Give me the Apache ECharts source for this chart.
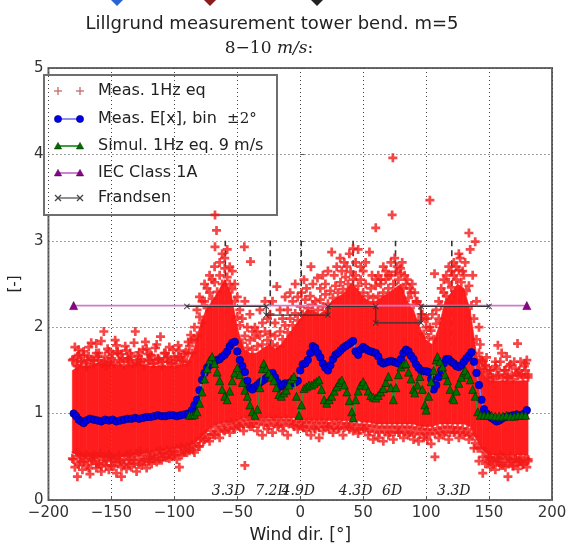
<!DOCTYPE html>
<html><head><meta charset="utf-8">
<script src="https://cdn.jsdelivr.net/npm/echarts@6/dist/echarts.min.js"></script>
<style>html,body{margin:0;padding:0;background:#fff}#c{width:577px;height:549px}</style>
</head><body><div id="c"></div>
<script>
// ---------- data ----------
const titleText = 'Lillgrund measurement tower bend. m=5';
const xName = 'Wind dir. [°]';
const yName = '[-]';
const legendNames = ['Meas. 1Hz eq', 'Meas. E[x], bin  ±2°', 'Simul. 1Hz eq. 9 m/s', 'IEC Class 1A', 'Frandsen'];

// dense core of the 1Hz measurement cloud: [dir, low, high]
const measCore = [
  [-181,0.55,1.5],[-175,0.5,1.55],[-170,0.5,1.55],[-160,0.5,1.58],[-150,0.48,1.58],[-140,0.5,1.55],
  [-130,0.52,1.58],[-120,0.55,1.55],[-110,0.58,1.55],[-100,0.6,1.55],[-90,0.62,1.58],[-85,0.65,1.72],
  [-80,0.7,2.0],[-75,0.78,2.2],[-70,0.85,2.3],[-65,0.88,2.42],[-60,0.9,2.55],[-55,0.9,2.4],[-50,0.92,2.0],
  [-45,0.95,1.75],[-40,0.95,1.7],[-35,0.95,1.7],[-30,0.95,1.75],[-25,0.95,1.8],[-20,0.95,1.75],[-15,0.95,1.8],
  [-10,0.95,1.9],[-5,0.95,2.0],[0,0.92,2.1],[5,0.92,2.2],[10,0.92,2.2],[15,0.92,2.15],[20,0.92,2.2],
  [25,0.92,2.3],[30,0.92,2.35],[35,0.92,2.4],[40,0.92,2.5],[45,0.92,2.45],[50,0.9,2.35],[55,0.9,2.3],
  [60,0.88,2.3],[65,0.88,2.35],[70,0.88,2.4],[75,0.88,2.45],[80,0.88,2.5],[85,0.88,2.3],[90,0.88,2.2],
  [95,0.85,2.0],[100,0.85,1.85],[105,0.85,1.8],[110,0.88,2.0],[115,0.88,2.3],[120,0.88,2.4],[125,0.88,2.5],
  [130,0.88,2.45],[135,0.85,2.2],[140,0.7,1.7],[145,0.58,1.45],[150,0.52,1.38],[160,0.52,1.38],
  [170,0.52,1.38],[181,0.52,1.38]
];

// scattered 1Hz measurement points outside the dense core
const measPoints = [
  [-181,1.62],[-179,1.77],[-177,1.55],[-176,1.68],[-174,1.6],[-172,1.72],[-170,1.58],[-168,1.66],[-166,1.82],[-164,1.61],
  [-162,1.81],[-160,1.7],[-158,1.58],[-156,1.95],[-155,1.66],[-153,1.75],[-151,1.6],[-149,1.69],[-147,1.85],[-145,1.72],
  [-143,1.6],[-141,1.64],[-139,1.78],[-137,1.62],[-135,1.7],[-133,1.58],[-131,1.95],[-129,1.67],[-127,1.6],[-125,1.74],
  [-123,1.83],[-121,1.62],[-119,1.68],[-117,1.58],[-115,1.76],[-113,1.63],[-111,1.89],[-109,1.6],[-107,1.7],[-105,1.66],
  [-103,1.58],[-101,1.74],[-99,1.62],[-97,1.79],[-95,1.65],[-93,1.6],[-91,1.71],[-89,1.83],[-87,1.91],[-86,1.7],
  [-181,0.48],[-179,0.38],[-177,0.27],[-175,0.44],[-173,0.35],[-171,0.47],[-169,0.4],[-167,0.3],[-165,0.45],[-164,0.49],
  [-162,0.37],[-160,0.42],[-158,0.33],[-156,0.46],[-154,0.4],[-152,0.35],[-150,0.47],[-148,0.39],[-146,0.31],[-144,0.44],
  [-142,0.27],[-140,0.41],[-138,0.36],[-136,0.46],[-134,0.38],[-132,0.43],[-130,0.33],[-128,0.47],[-126,0.4],[-124,0.45],
  [-122,0.37],[-120,0.48],[-118,0.42],[-116,0.5],[-114,0.44],[-112,0.52],[-110,0.46],[-108,0.54],[-106,0.49],[-104,0.55],
  [-102,0.5],[-100,0.56],[-98,0.47],[-96,0.38],[-94,0.52],[-92,0.58],[-90,0.55],[-88,0.6],
  [-84,2.0],[-82,2.2],[-80,2.35],[-78,2.3],[-76,2.5],[-74,2.45],[-72,2.6],[-70,2.55],[-68,2.7],[-67.7,2.93],
  [-66.5,3.12],[-67.7,3.3],[-64,2.75],[-62,2.85],[-60,2.8],[-58,2.9],[-56,2.7],[-54,2.65],[-52,2.5],[-50,2.35],
  [-48,2.2],[-46,2.1],[-44.4,2.93],[-39.5,2.76],[-44,2.3],[-42,2.0],[-40,2.15],[-38,1.95],
  [-84,0.55],[-80,0.62],[-76,0.7],[-72,0.68],[-68,0.75],[-64,0.72],[-60,0.8],[-56,0.78],[-52,0.82],[-48,0.85],
  [-44,0.4],[-45,0.8],[-40,0.85],
  [-36,2.0],[-34,1.95],[-32,2.2],[-30,2.05],[-28,2.3],[-26,2.1],[-24,2.15],[-22,2.3],[-20,2.05],[-18.6,2.47],
  [-16,2.2],[-14,2.1],[-12,2.35],[-10,2.2],[-8,2.4],[-6,2.3],[-4,2.5],[-2,2.35],
  [-38,0.85],[-34,0.8],[-30,0.75],[-26,0.82],[-22,0.78],[-18,0.85],[-14,0.8],[-10,0.75],[-5.7,0.87],[-2,0.82],
  [1,2.4],[3,2.55],[5,2.45],[8.5,2.7],[10,2.5],[13.7,2.57],[16,2.45],[18,2.6],[20,2.5],[22,2.65],
  [25,2.87],[27,2.6],[29,2.7],[31.7,2.8],[33,2.65],[35,2.75],[37,2.7],[39,2.85],[42,2.91],[44,2.75],
  [46,2.9],[48,2.7],[50,2.65],[52,2.75],[55,2.87],[57,2.6],[60,3.15],[60,2.55],[62,2.6],[64,2.55],
  [66,2.7],[68,2.65],[70,2.6],[72,2.75],[73,3.3],[73.6,3.96],[75,2.8],[77,2.7],[79.6,2.68],[81,2.75],
  [83,2.6],[85,2.55],[87,2.45],[89,2.5],[91,2.4],[93,2.3],[95,2.25],[97,2.15],[99,2.1],
  [2,0.85],[5,0.8],[8.5,0.75],[12,0.82],[15,0.72],[18,0.8],[22,0.85],[26,0.78],[30,0.82],[34,0.75],
  [38,0.85],[42,0.8],[46,0.77],[50,0.83],[54,0.75],[58,0.7],[62,0.72],[66,0.68],[70,0.75],[74,0.7],
  [78,0.78],[82,0.72],[86,0.75],[90,0.7],[94,0.68],[98,0.72],
  [101,2.1],[103,3.47],[103,2.0],[105,2.15],[106.7,2.62],[108,2.2],[110,2.3],[112,2.45],[114,2.55],[116,2.6],
  [118,2.7],[120,2.65],[122,2.75],[124,2.7],[126,2.85],[127,2.8],[129,2.65],[131,2.75],[134,3.09],[135,2.9],
  [137,2.6],[139,2.99],[140,2.3],[142,2.0],
  [101,0.7],[104,0.65],[107,0.5],[110,0.72],[114,0.75],[118,0.7],[122,0.78],[126,0.72],[130,0.75],[134,0.7],[138,0.6],
  [143,1.8],[145,1.6],[147,1.55],[149,1.45],[151,1.5],[153,1.42],[155,1.6],[157,1.79],[158,1.45],[160,1.7],
  [162,1.5],[164,1.42],[166,1.55],[168,1.45],[170,1.6],[172.6,1.81],[174,1.5],[176,1.45],[178,1.55],[179,1.58],[181,1.42],
  [142,0.45],[145,0.31],[147,0.42],[149,0.5],[151,0.38],[153,0.45],[155,0.35],[157,0.48],[159,0.4],[161,0.5],
  [163,0.38],[165,0.27],[167,0.45],[169,0.4],[171,0.48],[173,0.36],[175,0.44],[177,0.42],[180,0.38],[181,0.47]
];

// 1Hz measurement points along the edges of the dense core
const measEdgePoints = [
  [-180,1.63],[-178,1.56],[-176,1.74],[-174,1.61],[-172,1.68],[-170,1.54],[-168,1.77],[-166,1.63],[-164,1.57],[-162,1.7],
  [-160,1.62],[-158,1.84],[-156,1.6],[-154,1.55],[-152,1.72],[-150,1.64],[-148,1.58],[-146,1.79],[-144,1.62],[-142,1.69],
  [-140,1.56],[-138,1.73],[-136,1.6],[-134,1.66],[-132,1.82],[-130,1.59],[-128,1.71],[-126,1.63],[-124,1.56],[-122,1.75],
  [-120,1.61],[-118,1.67],[-116,1.58],[-114,1.8],[-112,1.62],[-110,1.55],[-108,1.7],[-106,1.64],[-104,1.77],[-102,1.59],
  [-100,1.66],[-98,1.57],[-96,1.73],[-94,1.62],[-92,1.69],[-90,1.6],[-88,1.78],[-86,1.85],
  [-177,1.66],[-169,1.62],[-161,1.66],[-153,1.6],[-145,1.7],[-137,1.64],[-129,1.62],[-121,1.69],[-113,1.64],[-105,1.6],[-97,1.66],[-89,1.7],
  [-180,0.47],[-178,0.55],[-176,0.41],[-174,0.5],[-172,0.44],[-170,0.53],[-168,0.37],[-166,0.47],[-164,0.52],[-162,0.42],
  [-160,0.49],[-158,0.39],[-156,0.51],[-154,0.45],[-152,0.53],[-150,0.4],[-148,0.48],[-146,0.44],[-144,0.52],[-142,0.38],
  [-140,0.47],[-138,0.53],[-136,0.42],[-134,0.5],[-132,0.46],[-130,0.54],[-128,0.41],[-126,0.52],[-124,0.47],[-122,0.55],
  [-120,0.44],[-118,0.53],[-116,0.48],[-114,0.56],[-112,0.46],[-110,0.54],[-108,0.5],[-106,0.58],[-104,0.48],[-102,0.57],
  [-100,0.52],[-98,0.6],[-96,0.53],[-94,0.61],[-92,0.55],[-90,0.62],[-88,0.57],[-86,0.64],
  [-175,0.52],[-167,0.5],[-159,0.54],[-151,0.5],[-143,0.46],[-135,0.53],[-127,0.56],[-119,0.5],[-111,0.58],[-103,0.56],[-95,0.62],
  [-84,1.86],[-82,1.9],[-80,2.12],[-78,2.05],[-76,2.3],[-74,2.22],[-72,2.4],[-70,2.33],[-68,2.52],[-66,2.41],
  [-64,2.6],[-62,2.5],[-60,2.68],[-58,2.58],[-56,2.5],[-54,2.44],[-52,2.3],[-50,2.12],[-48,2.02],[-46,1.82],
  [-44,1.9],[-42,1.76],[-40,1.85],[-38,1.74],[-36,1.88],[-34,1.78],[-32,1.9],[-30,1.8],[-28,1.95],[-26,1.85],
  [-24,1.92],[-22,1.8],[-20,1.9],[-18,1.78],[-16,1.95],[-14,1.86],[-12,2.02],[-10,1.94],[-8,2.1],[-6,2.02],
  [-4,2.16],[-2,2.08],[0,2.24],[2,2.15],[4,2.32],[6,2.22],[8,2.36],[10,2.26],[12,2.3],[14,2.2],
  [16,2.32],[18,2.24],[20,2.38],[22,2.27],[24,2.42],[26,2.34],[28,2.48],[30,2.4],[32,2.52],[34,2.44],
  [36,2.58],[38,2.5],[40,2.64],[42,2.55],[44,2.6],[46,2.48],[48,2.55],[50,2.4],[52,2.5],[54,2.36],
  [56,2.45],[58,2.34],[60,2.48],[62,2.36],[64,2.5],[66,2.4],[68,2.55],[70,2.45],[72,2.6],[74,2.5],
  [76,2.64],[78,2.55],[80,2.62],[82,2.45],[84,2.5],[86,2.34],[88,2.4],[90,2.26],[92,2.3],[94,2.08],
  [96,2.15],[98,1.92],[100,2.0],[102,1.88],[104,1.96],[106,1.86],[108,2.04],[110,2.1],[112,2.25],[114,2.4],
  [116,2.36],[118,2.52],[120,2.46],[122,2.6],[124,2.55],[126,2.66],[128,2.52],[130,2.6],[132,2.42],[134,2.48],
  [136,2.25],[138,2.1],[140,1.86],[142,1.7],[144,1.62],[146,1.52],
  [-85,0.58],[-83,0.66],[-81,0.62],[-79,0.72],[-77,0.68],[-75,0.76],[-73,0.72],[-71,0.8],[-69,0.76],[-67,0.84],
  [-65,0.79],[-63,0.86],[-61,0.81],[-59,0.88],[-57,0.83],[-55,0.9],[-53,0.84],[-51,0.89],[-49,0.86],[-47,0.92],
  [-45,0.87],[-43,0.93],[-41,0.88],[-39,0.94],[-37,0.89],[-35,0.93],[-33,0.88],[-31,0.94],[-29,0.87],[-27,0.92],
  [-25,0.86],[-23,0.93],[-21,0.88],[-19,0.94],[-17,0.87],[-15,0.92],[-13,0.86],[-11,0.93],[-9,0.88],[-7,0.92],
  [-5,0.85],[-3,0.91],[-1,0.86],[1,0.9],[3,0.84],[5,0.9],[7,0.85],[9,0.9],[11,0.83],[13,0.89],
  [15,0.84],[17,0.9],[19,0.85],[21,0.89],[23,0.82],[25,0.88],[27,0.84],[29,0.9],[31,0.83],[33,0.89],
  [35,0.84],[37,0.88],[39,0.82],[41,0.88],[43,0.83],[45,0.87],[47,0.81],[49,0.87],[51,0.82],[53,0.86],
  [55,0.8],[57,0.86],[59,0.79],[61,0.85],[63,0.78],[65,0.84],[67,0.79],[69,0.85],[71,0.78],[73,0.84],
  [75,0.79],[77,0.85],[79,0.78],[81,0.84],[83,0.79],[85,0.85],[87,0.78],[89,0.84],[91,0.77],[93,0.83],
  [95,0.76],[97,0.82],[99,0.77],[101,0.82],[103,0.76],[105,0.81],[107,0.77],[109,0.83],[111,0.78],[113,0.84],
  [115,0.79],[117,0.85],[119,0.78],[121,0.84],[123,0.79],[125,0.84],[127,0.78],[129,0.83],[131,0.78],[133,0.82],
  [135,0.76],[137,0.74],[139,0.66],[141,0.6],
  [143,1.62],[145,1.48],[147,1.56],[149,1.42],[151,1.5],[153,1.4],[155,1.55],[157,1.44],[159,1.6],[161,1.41],
  [163,1.5],[165,1.43],[167,1.57],[169,1.4],[171,1.52],[173,1.44],[175,1.6],[177,1.42],[179,1.5],[181,1.45],
  [148,1.65],[156,1.52],[164,1.66],[172,1.47],[180,1.62],
  [143,0.6],[145,0.5],[147,0.56],[149,0.44],[151,0.5],[153,0.41],[155,0.49],[157,0.45],[159,0.52],[161,0.4],
  [163,0.48],[165,0.43],[167,0.51],[169,0.39],[171,0.47],[173,0.44],[175,0.5],[177,0.41],[179,0.48],[181,0.45],
  [150,0.48],[158,0.43],[166,0.48],[174,0.46]
];

// bin-averaged measurement E[x]
const measMean = [
  [-180,1.00],[-178,0.97],[-176,0.93],[-174,0.91],[-172,0.89],[-170,0.92],[-167,0.94],[-164,0.93],[-161,0.92],[-158,0.91],
  [-155,0.93],[-152,0.92],[-149,0.93],[-146,0.91],[-143,0.92],[-140,0.93],[-137,0.94],[-134,0.94],[-131,0.95],[-128,0.94],
  [-125,0.95],[-122,0.96],[-119,0.96],[-116,0.97],[-113,0.98],[-110,0.97],[-107,0.97],[-104,0.98],[-101,0.98],[-98,0.97],
  [-95,0.98],[-92,0.99],[-89,1.00],[-86,1.04],[-84,1.10],[-82,1.16],[-80,1.27],[-78,1.39],[-76,1.47],[-74,1.53],
  [-72,1.56],[-70,1.58],[-68,1.60],[-66,1.62],[-64,1.63],[-62,1.66],[-60,1.68],[-58,1.72],[-56,1.78],[-54,1.82],
  [-52,1.83],[-50,1.72],[-48,1.62],[-46,1.55],[-44,1.48],[-42,1.38],[-40,1.30],[-38,1.28],[-36,1.31],[-34,1.33],
  [-32,1.36],[-30,1.38],[-28,1.40],[-26,1.42],[-24,1.45],[-22,1.47],[-20,1.42],[-18,1.36],[-16,1.31],[-14,1.33],
  [-12,1.35],[-10,1.34],[-8,1.36],[-6,1.35],[-4,1.36],[-2,1.38],[0,1.50],[2,1.57],[4,1.58],[6,1.62],
  [8,1.70],[10,1.78],[12,1.76],[14,1.70],[16,1.65],[18,1.58],[20,1.53],[22,1.50],[24,1.56],[26,1.63],
  [28,1.68],[30,1.70],[32,1.73],[34,1.76],[36,1.78],[38,1.80],[40,1.82],[42,1.84],[44,1.72],[46,1.68],
  [48,1.74],[50,1.77],[52,1.75],[54,1.73],[56,1.72],[58,1.71],[60,1.70],[62,1.66],[64,1.60],[66,1.58],
  [68,1.59],[70,1.60],[72,1.61],[74,1.60],[76,1.59],[78,1.58],[80,1.63],[82,1.70],[84,1.74],[86,1.72],
  [88,1.67],[90,1.63],[92,1.57],[94,1.53],[96,1.50],[98,1.49],[100,1.49],[102,1.48],[104,1.40],[106,1.28],
  [108,1.33],[110,1.42],[112,1.50],[114,1.58],[116,1.63],[118,1.63],[120,1.60],[122,1.58],[124,1.55],[126,1.54],
  [128,1.56],[130,1.60],[132,1.64],[134,1.67],[136,1.71],[138,1.60],[140,1.47],[142,1.33],[144,1.16],[146,1.05],
  [148,1.00],[150,0.97],[152,0.95],[154,0.93],[156,0.91],[158,0.92],[160,0.94],[163,0.96],[166,0.97],[169,0.98],
  [172,0.99],[175,0.98],[178,1.00],[180,1.04]
];

// simulated 1Hz equivalent load, 9 m/s
const simul = [
  [-88,0.98],[-86,0.98],[-84,0.99],[-82,1.02],[-80,1.12],[-78,1.25],[-76,1.40],[-74,1.52],[-72,1.62],[-70,1.66],
  [-68,1.58],[-66,1.48],[-64,1.38],[-62,1.28],[-60,1.20],[-58,1.16],[-56,1.26],[-54,1.38],[-52,1.47],[-50,1.53],
  [-48,1.45],[-46,1.36],[-44,1.27],[-42,1.20],[-40,1.10],[-38,1.02],[-36,0.98],[-34,1.05],[-32,1.30],[-30,1.52],
  [-29,1.58],[-27,1.52],[-25,1.47],[-23,1.42],[-21,1.38],[-19,1.30],[-17,1.22],[-15,1.20],[-13,1.24],[-11,1.27],
  [-9,1.33],[-7,1.40],[-5,1.43],[-3,1.20],[-1,0.98],[1,1.10],[3,1.29],[5,1.31],[7,1.33],[9,1.33],
  [11,1.35],[13,1.37],[15,1.39],[17,1.28],[19,1.16],[21,1.12],[23,1.16],[25,1.20],[27,1.26],[29,1.31],
  [31,1.36],[33,1.39],[35,1.33],[37,1.25],[39,1.15],[41,1.02],[42,0.95],[44,1.16],[46,1.26],[48,1.33],
  [50,1.37],[52,1.32],[54,1.26],[56,1.21],[58,1.19],[60,1.18],[62,1.21],[64,1.25],[66,1.29],[68,1.36],
  [70,1.43],[72,1.30],[74,1.16],[76,1.30],[78,1.45],[80,1.54],[82,1.57],[84,1.58],[86,1.48],[88,1.40],
  [90,1.28],[91,1.24],[93,1.33],[95,1.43],[97,1.28],[99,1.10],[100,1.04],[102,1.20],[104,1.37],[106,1.50],
  [108,1.62],[109,1.66],[111,1.60],[113,1.54],[115,1.45],[117,1.38],[119,1.28],[121,1.18],[122,1.16],[124,1.26],
  [126,1.35],[128,1.42],[130,1.48],[131,1.50],[133,1.45],[135,1.39],[137,1.28],[139,1.20],[141,1.02],[143,0.98],
  [146,0.98],[149,0.98],[152,0.98],[155,0.97],[158,0.97],[161,0.97],[164,0.98],[167,0.97],[170,0.97],[173,0.98],
  [176,0.98],[179,0.98]
];

const iec = [[-180,2.25],[180,2.25]];

const frandsen = [[-90,2.24],[-27,2.24],[-27,2.14],[22,2.14],[22,2.24],[60,2.24],[60,2.05],[96,2.05],[96,2.24],[150,2.24]];

// wake directions (dashed) and spacing labels
const wakeDirs = [-59.5,-23.8,0.8,42,75.7,120.4];
const wakeLineRange = [1.2, 3.0];
const spacingLabels = ['3.3D','7.2D','4.9D','4.3D','6D','3.3D'];
const spacingLabelX = [-57,-22.5,-1.5,44,73,122];
const spacingLabelY = 0.02;

// ---------- chart ----------
const chart = echarts.init(document.getElementById('c'), null, {renderer:'canvas'});
const plusPath = 'path://M3.5,0L6.5,0L6.5,3.5L10,3.5L10,6.5L6.5,6.5L6.5,10L3.5,10L3.5,6.5L0,6.5L0,3.5L3.5,3.5Z';
const xPath = 'path://M0,1L1,0L5,4L9,0L10,1L6,5L10,9L9,10L5,6L1,10L0,9L4,5Z';
const sans = '"DejaVu Sans", sans-serif';
const serif = '"DejaVu Serif", serif';

const lgX0 = 44, lgY0 = 75, lgW = 233, lgH = 140;
const rowY = [91, 119, 146, 173, 198];
const mL = 58, mR = 80, tX = 98;
function tri(cx, cy, r, fill, stroke){
  return {type:'polygon', shape:{points:[[cx,cy-r],[cx+r,cy+r*0.8],[cx-r,cy+r*0.8]]}, style:{fill:fill, stroke:stroke, lineWidth:0.6}};
}
function plus(cx, cy, c){
  return [{type:'line', shape:{x1:cx-4,y1:cy,x2:cx+4,y2:cy}, style:{stroke:c, lineWidth:1.3}},
          {type:'line', shape:{x1:cx,y1:cy-4,x2:cx,y2:cy+4}, style:{stroke:c, lineWidth:1.3}}];
}
function cross(cx, cy, c){
  return [{type:'line', shape:{x1:cx-3,y1:cy-3,x2:cx+3,y2:cy+3}, style:{stroke:c, lineWidth:1.2}},
          {type:'line', shape:{x1:cx-3,y1:cy+3,x2:cx+3,y2:cy-3}, style:{stroke:c, lineWidth:1.2}}];
}
const lgChildren = [
  {type:'rect', shape:{x:lgX0,y:lgY0,width:lgW,height:lgH}, style:{fill:'#fff', stroke:'#6e6e6e', lineWidth:2}},
  ...plus(mL,rowY[0],'#c46a6a'), ...plus(mR,rowY[0],'#c46a6a'),
  {type:'line', shape:{x1:mL,y1:rowY[1],x2:mR,y2:rowY[1]}, style:{stroke:'#8e8ef0', lineWidth:2}},
  {type:'circle', shape:{cx:mL,cy:rowY[1],r:3.6}, style:{fill:'#0000ee', stroke:'#00006a', lineWidth:0.6}},
  {type:'circle', shape:{cx:mR,cy:rowY[1],r:3.6}, style:{fill:'#0000ee', stroke:'#00006a', lineWidth:0.6}},
  {type:'line', shape:{x1:mL,y1:rowY[2],x2:mR,y2:rowY[2]}, style:{stroke:'#3f9f3f', lineWidth:2}},
  tri(mL,rowY[2],3.6,'#006f00','#003000'), tri(mR,rowY[2],3.6,'#006f00','#003000'),
  {type:'line', shape:{x1:mL,y1:rowY[3],x2:mR,y2:rowY[3]}, style:{stroke:'#d27ed2', lineWidth:2}},
  tri(mL,rowY[3],3.6,'#8e008e','#4a004a'), tri(mR,rowY[3],3.6,'#8e008e','#4a004a'),
  {type:'line', shape:{x1:mL,y1:rowY[4],x2:mR,y2:rowY[4]}, style:{stroke:'#555', lineWidth:1.3}},
  ...cross(mL,rowY[4],'#444'), ...cross(mR,rowY[4],'#444')
];
legendNames.forEach((n,i)=>{
  if (i === 1) {
    lgChildren.push({type:'text', x:tX, y:rowY[i], style:{text:'{a|Meas. E[x], bin  }{b|±2°}', verticalAlign:'middle', align:'left',
      rich:{a:{font:'16px '+sans, fill:'#222'}, b:{font:'15px '+serif, fill:'#222'}}}});
  } else {
    lgChildren.push({type:'text', x:tX, y:rowY[i], style:{text:n, font:'16px '+sans, fill:'#222', verticalAlign:'middle', align:'left'}});
  }
});

const option = {
  animation:false,
  backgroundColor:'#fff',
  title:[
    {text:titleText, left:267, top:10, textAlign:'center', textStyle:{fontFamily:'DejaVu Sans', fontSize:18, fontWeight:'normal', color:'#222'}},
    {text:'{n|8−10 }{i|m/s}{n|:}', left:264, top:35, textAlign:'center',
     textStyle:{fontWeight:'normal', rich:{n:{fontFamily:'DejaVu Serif', fontWeight:'normal', fontSize:17, color:'#222'}, i:{fontFamily:'DejaVu Serif', fontWeight:'normal', fontStyle:'italic', fontSize:17, color:'#222'}}}}
  ],
  grid:{left:36, right:25, top:68, bottom:49, show:true, borderColor:'#6a6a6a', borderWidth:2, backgroundColor:'transparent'},
  xAxis:{type:'value', min:-200, max:200, interval:50,
    name:xName, nameLocation:'middle', nameGap:27, nameTextStyle:{fontFamily:'DejaVu Sans', fontSize:17, color:'#222'},
    axisLine:{show:false}, axisTick:{show:true, inside:true, length:4, lineStyle:{color:'#555'}},
    axisLabel:{fontFamily:'DejaVu Sans', fontSize:15, color:'#333', margin:6, formatter:v=>String(v).replace('-','−')},
    splitLine:{show:true, lineStyle:{type:[1,3], color:'#444', width:1}}},
  yAxis:{type:'value', min:0, max:5, interval:1,
    name:yName, nameLocation:'middle', nameGap:20, nameRotate:90, nameTextStyle:{fontFamily:'DejaVu Sans', fontSize:15, color:'#222'},
    axisLine:{show:false}, axisTick:{show:true, inside:true, length:4, lineStyle:{color:'#555'}},
    axisLabel:{fontFamily:'DejaVu Sans', fontSize:15, color:'#333', margin:5},
    splitLine:{show:true, lineStyle:{type:[1,3], color:'#444', width:1}}},
  series:[
    {type:'custom', name:'wake', z:1, silent:true, clip:true,
     data:wakeDirs.map(x=>[x, wakeLineRange[0], wakeLineRange[1]]),
     encode:{x:0, y:[1,2]},
     renderItem:(params, api)=>{
       const p0 = api.coord([api.value(0), api.value(1)]);
       const p1 = api.coord([api.value(0), api.value(2)]);
       return {type:'line', shape:{x1:p0[0],y1:p0[1],x2:p1[0],y2:p1[1]}, style:{stroke:'#333', lineWidth:1.6, lineDash:[6,4]}};
     }},
    {type:'custom', name:'measCore', z:2, silent:true, clip:true,
     data:measCore, encode:{x:0, y:[1,2]},
     renderItem:(params, api)=>{
       const i = params.dataIndex;
       if (i >= measCore.length-1) return null;
       const a = measCore[i], b = measCore[i+1];
       const pts = [api.coord([a[0],a[1]]), api.coord([b[0],b[1]]), api.coord([b[0],b[2]]), api.coord([a[0],a[2]])];
       return {type:'polygon', shape:{points:pts}, style:{fill:'#ff1c1c', stroke:'#ff1c1c', lineWidth:0.6}};
     }},
    {type:'scatter', name:legendNames[0], z:3, data:measPoints.concat(measEdgePoints), symbol:plusPath, symbolSize:9, large:false,
     itemStyle:{color:'#f41818'}},
    {type:'line', name:legendNames[1], z:4, data:measMean, symbol:'circle', symbolSize:7.5, showAllSymbol:true,
     itemStyle:{color:'#0000ee', borderColor:'#00006a', borderWidth:0.7}, lineStyle:{color:'#7c7cf5', width:1.5}},
    {type:'line', name:legendNames[2], z:5, data:simul, symbol:'triangle', symbolSize:8, showAllSymbol:true,
     itemStyle:{color:'#007000', borderColor:'#002a00', borderWidth:0.6}, lineStyle:{color:'#2f8f2f', width:1.5}},
    {type:'line', name:legendNames[3], z:6, data:iec, symbol:'triangle', symbolSize:8,
     itemStyle:{color:'#8e008e', borderColor:'#4a004a', borderWidth:0.6}, lineStyle:{color:'#cf7acf', width:1.6}},
    {type:'line', name:legendNames[4], z:7, data:frandsen, symbol:xPath, symbolSize:6, showAllSymbol:true,
     itemStyle:{color:'#333'}, lineStyle:{color:'#333', width:1.3}},
    {type:'custom', name:'spacing', z:8, silent:true, clip:false,
     data:spacingLabelX.map((x,i)=>[x, spacingLabelY, i]), encode:{x:0, y:1},
     renderItem:(params, api)=>{
       const p = api.coord([api.value(0), api.value(1)]);
       return {type:'text', x:p[0], y:p[1], style:{text:spacingLabels[params.dataIndex], font:'italic 14px "DejaVu Serif", serif', fill:'#222', align:'center', verticalAlign:'bottom'}};
     }}
  ],
  graphic:[
    {type:'group', z:100, children:lgChildren},
    {type:'polygon', z:100, shape:{points:[[111,0],[123,0],[117,6]]}, style:{fill:'#2a63d4'}},
    {type:'polygon', z:100, shape:{points:[[204,0],[216,0],[210,6]]}, style:{fill:'#8a1c1c'}},
    {type:'polygon', z:100, shape:{points:[[311,0],[323,0],[317,6]]}, style:{fill:'#222'}}
  ]
};
chart.setOption(option);
</script>
</body></html>
